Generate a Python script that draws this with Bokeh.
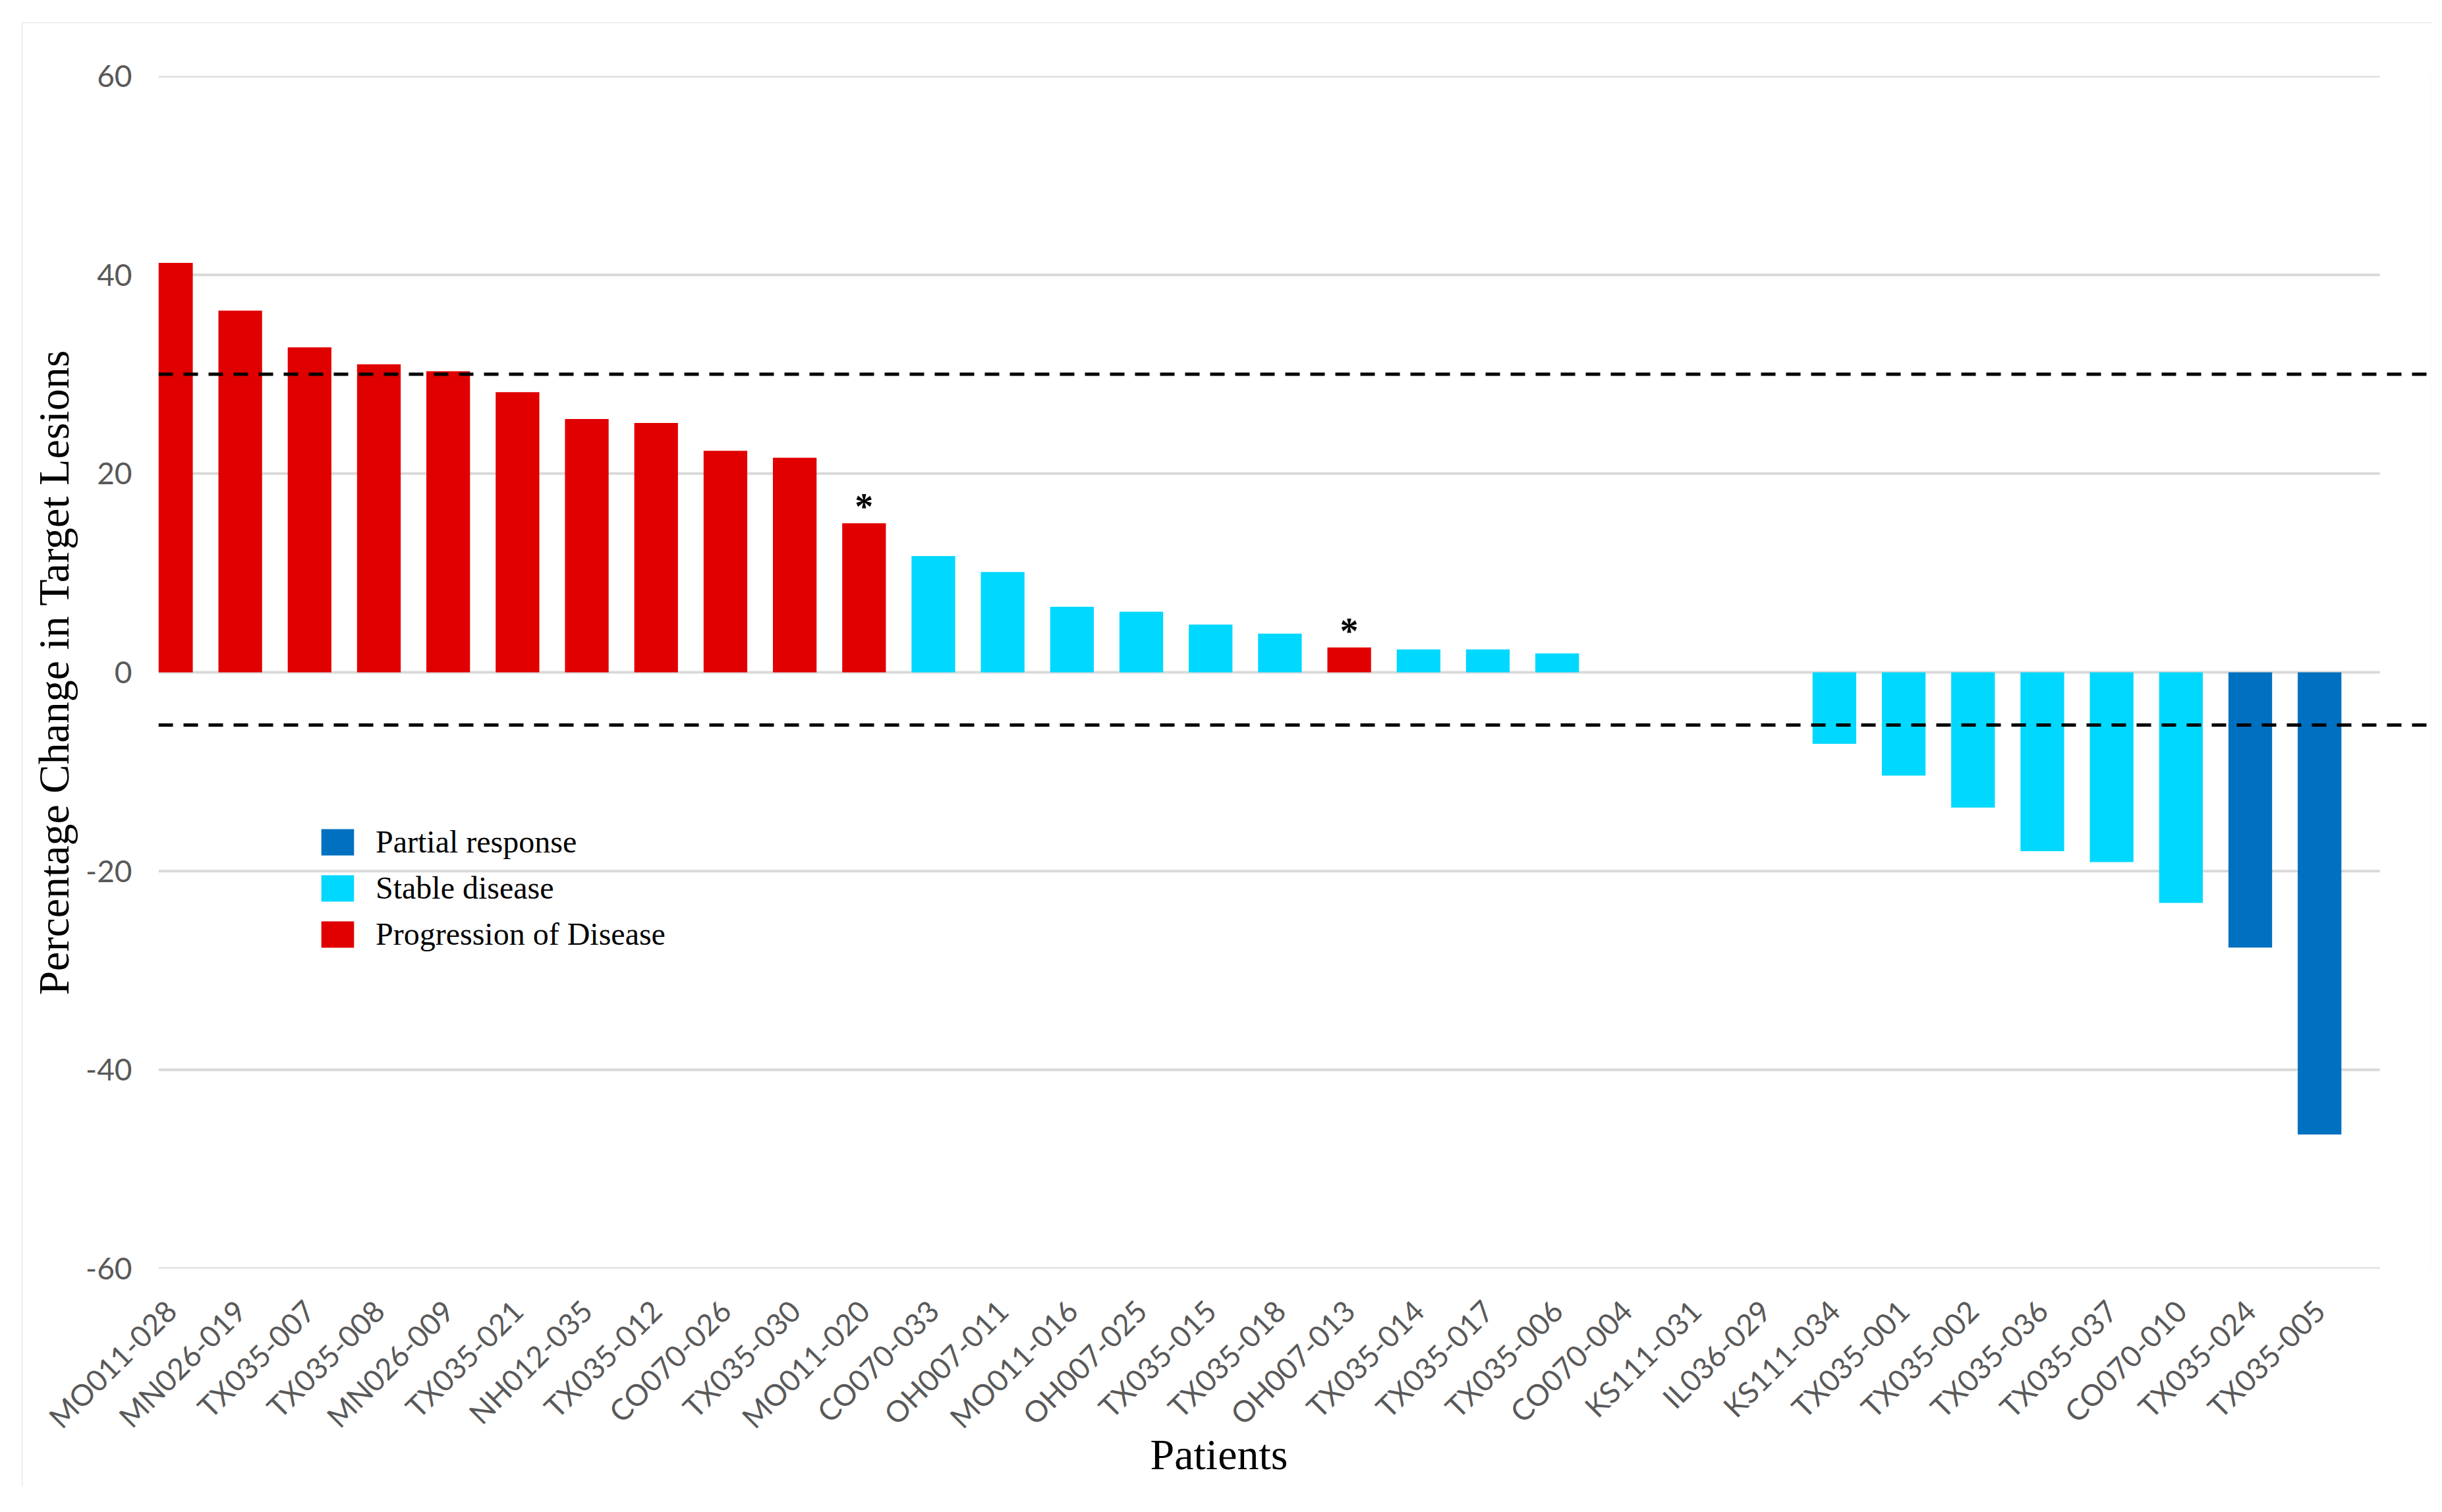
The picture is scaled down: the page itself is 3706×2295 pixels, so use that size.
import math
from bokeh.plotting import figure
from bokeh.models import (ColumnDataSource, FixedTicker, Legend, LegendItem,
                          Title, Span, Range1d)
from bokeh.core.properties import value
from bokeh.embed import file_html
from bokeh.resources import INLINE

# ---------------- data ----------------
patients = ["MO011-028", "MN026-019", "TX035-007", "TX035-008", "MN026-009",
            "TX035-021", "NH012-035", "TX035-012", "CO070-026", "TX035-030",
            "MO011-020", "CO070-033", "OH007-011", "MO011-016", "OH007-025",
            "TX035-015", "TX035-018", "OH007-013", "TX035-014", "TX035-017",
            "TX035-006", "CO070-004", "KS111-031", "IL036-029", "KS111-034",
            "TX035-001", "TX035-002", "TX035-036", "TX035-037", "CO070-010",
            "TX035-024", "TX035-005"]
change = [41.2, 36.4, 32.7, 31.0, 30.3, 28.2, 25.5, 25.1, 22.3, 21.6,
          15.0, 11.7, 10.1, 6.6, 6.1, 4.8, 3.9, 2.5, 2.3, 2.3,
          1.9, 0.0, 0.0, 0.0, -7.2, -10.4, -13.6, -18.0, -19.1, -23.2,
          -27.7, -46.5]
response = ["PD"] * 11 + ["SD"] * 6 + ["PD"] + ["SD"] * 12 + ["PR"] * 2
marked = ["MO011-020", "OH007-013"]

codes = ["PR", "SD", "PD"]
categories = ["Partial response", "Stable disease", "Progression of Disease"]
colors = ["#0070C0", "#00D8FF", "#E00000"]

y_ticks = [-60, -40, -20, 0, 20, 40, 60]
y_tick_labels = ["-60", "-40", "-20", "0", "20", "40", "60"]
thresholds = [30, -5.3]

# ---------------- figure ----------------
W, H = 3658, 2222
p = figure(width=W, height=H,
           x_range=Range1d(-0.18, 32.6), y_range=Range1d(-60, 60),
           output_backend="svg", toolbar_location=None,
           min_border_left=207, min_border_right=3,
           min_border_top=81, min_border_bottom=331)
p.margin = (34, 0, 0, 33)
p.styles = {"outline": "4px solid #d9d9d9", "outline-offset": "-4px"}
p.outline_line_color = None
p.background_fill_color = "white"
p.border_fill_color = "white"
p.xgrid.visible = False
p.ygrid.visible = False

# gridlines (behind bars)
grid_end = 31.87
p.segment(x0=[p.x_range.start] * len(y_ticks), x1=[grid_end] * len(y_ticks),
          y0=y_ticks, y1=y_ticks, line_color="#d9d9d9", line_width=4)

# bars
idx = list(range(len(patients)))
legend_items = []
for code, cat, col in zip(codes, categories, colors):
    sel = [i for i in idx if response[i] == code]
    src = ColumnDataSource(dict(x=sel, top=[change[i] for i in sel],
                                name=[patients[i] for i in sel]))
    r = p.vbar(x="x", top="top", bottom=0, width=0.63, source=src,
               fill_color=col, line_color=None)
    legend_items.append(LegendItem(label=cat, renderers=[r]))

# threshold dashed lines
for t in thresholds:
    p.add_layout(Span(location=t, dimension="width", line_color="black",
                      line_width=5, line_dash="22 16"))

# asterisks
ms = [patients.index(m) for m in marked]
star_src = ColumnDataSource(dict(x=ms, y=[change[i] for i in ms],
                                 t=["*"] * len(ms)))
p.text(x="x", y="y", text="t", source=star_src, text_align="center",
       text_baseline="bottom", y_offset=6, text_font=value("Liberation Serif"),
       text_font_size="56px", text_font_style="bold", text_color="black")

# axes
p.xaxis.ticker = FixedTicker(ticks=idx)
p.xaxis.major_label_overrides = {i: n for i, n in enumerate(patients)}
p.xaxis.major_label_orientation = math.pi / 4
p.xaxis.major_label_standoff = 50
p.xaxis.major_label_text_font = "Lato"
p.xaxis.major_label_text_font_size = "45px"
p.xaxis.major_label_text_color = "#595959"
p.xaxis.axis_line_color = None
p.xaxis.major_tick_line_color = None
p.xaxis.minor_tick_line_color = None

p.yaxis.ticker = FixedTicker(ticks=y_ticks)
p.yaxis.major_label_overrides = dict(zip(y_ticks, y_tick_labels))
p.yaxis.major_label_standoff = 34
p.yaxis.major_label_text_font = "Lato"
p.yaxis.major_label_text_font_size = "46px"
p.yaxis.major_label_text_color = "#595959"
p.yaxis.axis_line_color = None
p.yaxis.major_tick_line_color = None
p.yaxis.minor_tick_line_color = None
p.yaxis.axis_label = "Percentage Change in Target Lesions"
p.yaxis.axis_label_text_font = "Liberation Serif"
p.yaxis.axis_label_text_font_size = "66px"
p.yaxis.axis_label_text_font_style = "normal"
p.yaxis.axis_label_text_color = "black"
p.yaxis.axis_label_standoff = 9

p.add_layout(Title(text="Patients", align="left", offset=1505, standoff=-64,
                   text_font="Liberation Serif", text_font_size="66px",
                   text_font_style="normal", text_color="black"), "below")

# legend
legend = Legend(items=legend_items, location=(241, 480),
                glyph_width=62, glyph_height=50, label_standoff=27,
                spacing=15, padding=0, margin=0,
                label_text_font="Liberation Serif", label_text_font_size="48px",
                label_text_color="black",
                border_line_color=None, background_fill_alpha=0)
p.add_layout(legend)

open("out.html", "w").write(file_html(p, INLINE))
